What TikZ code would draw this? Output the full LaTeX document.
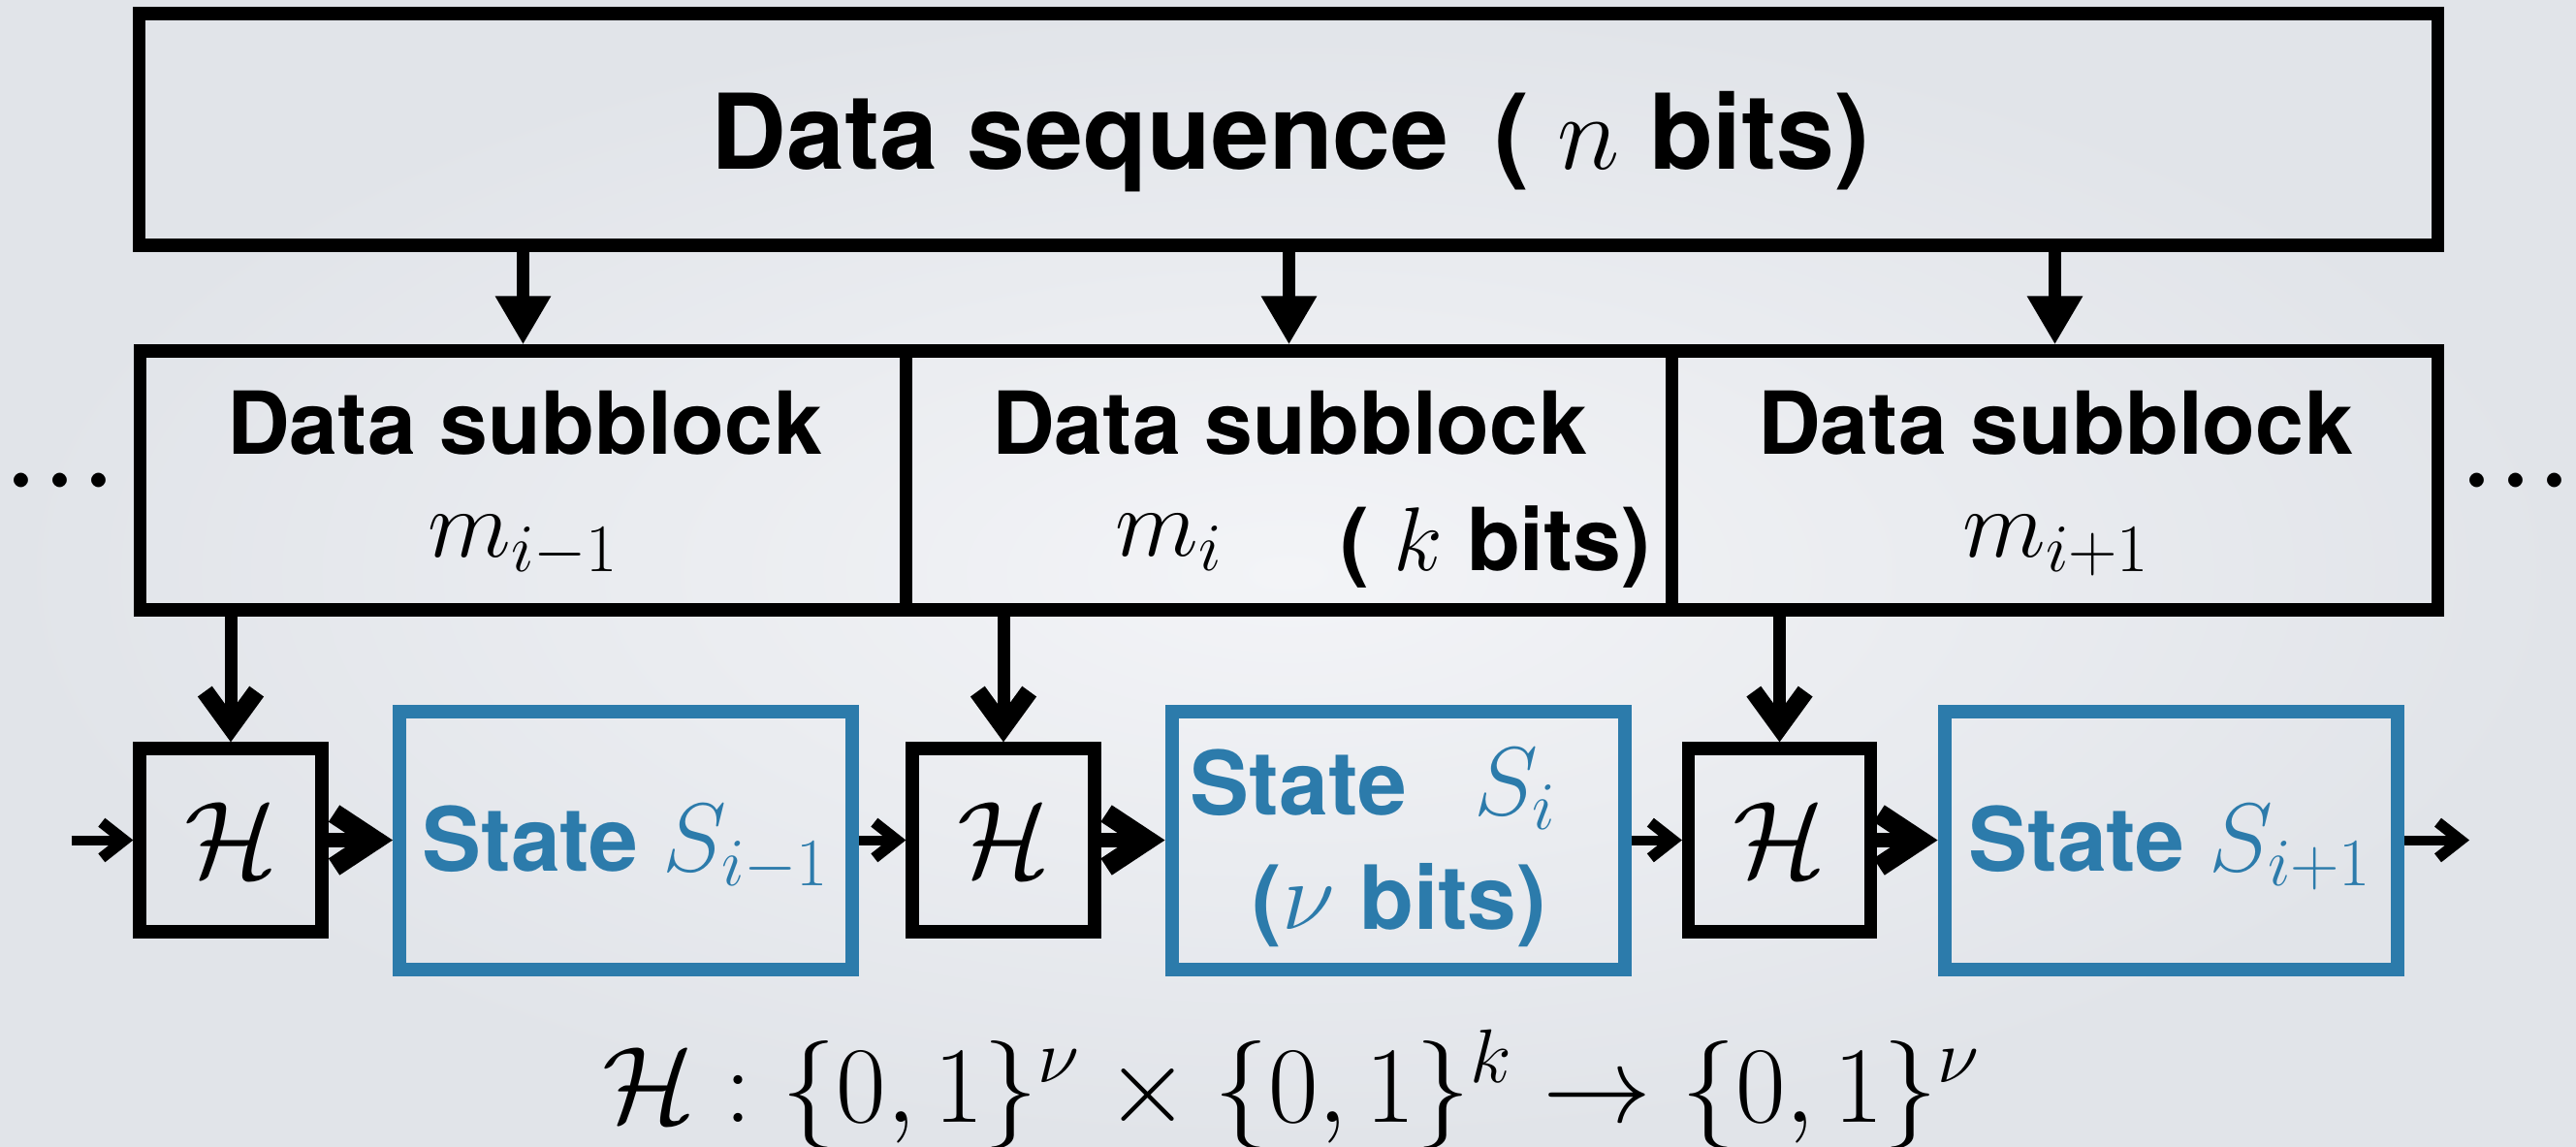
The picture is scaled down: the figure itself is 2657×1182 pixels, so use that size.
\RequirePackage{fix-cm}
\documentclass[tikz,border=0pt]{standalone}
\usepackage[no-math]{fontspec}
\setmainfont{TeX Gyre Heros}
\usetikzlibrary{arrows.meta}
\definecolor{stateblue}{HTML}{2C7BAB}
\definecolor{bgin}{HTML}{F3F4F7}
\definecolor{bgout}{HTML}{E1E4E9}

% font sizes
\newcommand\seqfont{\fontsize{32.3pt}{38pt}\selectfont\bfseries}
\newcommand\blkfont{\fontsize{26.9pt}{32pt}\selectfont\bfseries}
\newcommand\stfont{\fontsize{27.4pt}{32pt}\selectfont\bfseries}
\newcommand\mbig[1]{{\fontsize{30pt}{36pt}\selectfont$#1$}}
\newcommand\hfont{\fontsize{33.6pt}{40pt}\selectfont}
\newcommand\bigdots{{\fontsize{42pt}{48pt}\selectfont$\cdot$\hspace{0.3pt}$\cdot$\hspace{0.3pt}$\cdot$}}

\begin{document}
\begin{tikzpicture}[x=0.3pt,y=-0.3pt,
  seqbox/.style={draw, line width=4pt, inner sep=0pt,
    minimum width=711.3pt, minimum height=71.7pt},
  subbox/.style={draw, line width=4pt, inner sep=0pt,
    minimum width=237pt, minimum height=80.1pt},
  hashbox/.style={draw, line width=4pt, inner sep=0pt, font=\hfont,
    minimum width=56.4pt, minimum height=56.7pt},
  statebox/.style={draw=stateblue, line width=4.2pt, inner sep=0pt,
    minimum width=140.1pt, minimum height=79.8pt},
  lbl/.style={inner sep=0pt, anchor=base},
  stlbl/.style={lbl, text=stateblue, font=\stfont},
  toparrow/.style={line width=3.9pt, -{Triangle[length=15pt,width=16.2pt]}},
  downarrow/.style={line width=3.9pt, -{Straight Barb[length=11pt,width=16pt,line width=5.5pt]}},
  thinarrow/.style={line width=3pt, -{Straight Barb[length=7pt,width=11pt,line width=3.4pt]}},
  thickarrow/.style={line width=4.4pt, -{Straight Barb[length=12.5pt,width=16.5pt,line width=6.2pt]}},
]
\useasboundingbox (0,0) rectangle (2657,1182);
\shade[inner color=bgin, outer color=bgout] (0,0) rectangle (2657,1182);

% whole data sequence
\node[seqbox] (seq) at (1329,133.5) {};
\node[lbl, font=\seqfont] (seqtxt) at (1331,174)
  {Data sequence\hspace{14pt}( {\fontsize{33pt}{40pt}\selectfont$n$} bits)};

% data subblocks
\node[subbox] (sb1) at (539.5,495.5) {};
\node[subbox] (sb2) at (1329.5,495.5) {};
\node[subbox] (sb3) at (2119.5,495.5) {};
\node[lbl, font=\blkfont] (sb1a) at (541,468) {Data subblock};
\node[lbl, font=\blkfont] (sb2a) at (1330,468) {Data subblock};
\node[lbl, font=\blkfont] (sb3a) at (2120,468) {Data subblock};
\node[lbl] (sb1b) at (540,574) {\mbig{m_{i-1}}};
\node[lbl] (sb2b) at (1206,573) {\mbig{m_{i}}};
\node[lbl, anchor=base west, font=\blkfont] (sb2c) at (1382,588)
  {( {\fontsize{28pt}{34pt}\selectfont$k$} bits)};
\node[lbl] (sb3b) at (2121,574) {\mbig{m_{i+1}}};

% continuation dots
\node[lbl] (dotsl) at (62,530) {\bigdots};
\node[lbl] (dotsr) at (2595,530) {\bigdots};

% compression function boxes
\node[hashbox] (h1) at (238,866.5) {$\mathcal{H}$};
\node[hashbox] (h2) at (1035,866.5) {$\mathcal{H}$};
\node[hashbox] (h3) at (1835.5,866.5) {$\mathcal{H}$};

% chaining states
\node[statebox] (st1) at (645.5,866.5) {};
\node[statebox] (st2) at (1442,866.5) {};
\node[statebox] (st3) at (2239,866.5) {};
\node[stlbl] (st1a) at (645.5,898) {State \mbig{S_{i-1}}};
\node[stlbl] (st2a) at (1416.5,840) {State\hspace{20.7pt}\mbig{S_{i}}};
\node[stlbl] (st2b) at (1443.5,958) {(\mbig{\nu} bits)};
\node[stlbl] (st3a) at (2238.5,898) {State \mbig{S_{i+1}}};

% definition of the compression function
\node[lbl, font=\hfont] (hdef) at (1332,1157)
  {$\mathcal{H}:\{0,1\}^{\nu}\times\{0,1\}^{k}\rightarrow\{0,1\}^{\nu}$};

% splitting the sequence
\draw[toparrow] (seq.south -| sb1) -- (sb1.north);
\draw[toparrow] (seq.south -| sb2) -- (sb2.north);
\draw[toparrow] (seq.south -| sb3) -- (sb3.north);

% subblocks fed to H
\draw[downarrow] (h1 |- sb1.south) -- (h1.north);
\draw[downarrow] (h2 |- sb2.south) -- (h2.north);
\draw[downarrow] (h3 |- sb3.south) -- (h3.north);

% state chain
\coordinate (cin) at (73.5,866.5);
\coordinate (cout) at (2547,866.5);
\draw[thinarrow] (cin) -- (h1.west);
\draw[thickarrow] (h1.east) -- (st1.west);
\draw[thinarrow] (st1.east) -- (h2.west);
\draw[thickarrow] (h2.east) -- (st2.west);
\draw[thinarrow] (st2.east) -- (h3.west);
\draw[thickarrow] (h3.east) -- (st3.west);
\draw[thinarrow] (st3.east) -- (cout);
\end{tikzpicture}
\end{document}
